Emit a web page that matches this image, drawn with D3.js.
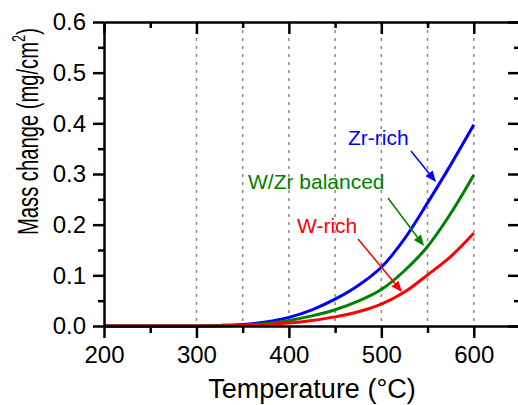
<!DOCTYPE html>
<html>
<head>
<meta charset="utf-8">
<script src="https://cdn.jsdelivr.net/npm/d3@7"></script>
<style>
  body { margin: 0; background: #fff; }
  svg { display: block; font-family: "Liberation Sans", Arial, sans-serif; }
</style>
</head>
<body>
<div id="chart-area"></div>
<script>
// data
var temperature = [200,225,250,275,300,325,350,375,400,425,450,475,500,525,550,575,600];
var zrRich     = [0,0,0,0,0,0.001,0.003,0.008,0.017,0.032,0.053,0.080,0.116,0.172,0.243,0.318,0.397];
var wzrBalanced = [0,0,0,0,0,0.001,0.002,0.005,0.011,0.020,0.032,0.049,0.072,0.109,0.157,0.222,0.298];
var wRich      = [0,0,0,0,0,0,0.001,0.003,0.006,0.011,0.018,0.028,0.043,0.067,0.101,0.137,0.183];

var seriesNames = ["Zr-rich", "W/Zr balanced", "W-rich"];
var seriesColors = ["#0000ff", "#008000", "#ff0000"];
var seriesValues = [zrRich, wzrBalanced, wRich];

var xTicks = [200,300,400,500,600];
var xMinor = [250,350,450,550,650];
var yTicks = [0,0.1,0.2,0.3,0.4,0.5,0.6];
var yMinor = [0.05,0.15,0.25,0.35,0.45,0.55];
var gridTemps = [300,350,400,450,500,550,600];

var W = 518, H = 405;
var plot = {left:104, right:520, top:22, bottom:326};

var svg = d3.select("#chart-area").append("svg")
	.attr("width", W).attr("height", H);

var x = d3.scaleLinear().domain([200, 650]).range([plot.left, plot.right]);
var y = d3.scaleLinear().domain([0, 0.6]).range([plot.bottom, plot.top]);

// dotted grid lines
svg.append("g").selectAll("line")
	.data(gridTemps).enter().append("line")
	.attr("x1", function(d){ return x(d); })
	.attr("x2", function(d){ return x(d); })
	.attr("y1", plot.top).attr("y2", plot.bottom)
	.attr("stroke", "#8a8a8a")
	.attr("stroke-width", 1.5)
	.attr("stroke-dasharray", "3,5");

// curves
var line = d3.line()
	.x(function(d, i){ return x(temperature[i]); })
	.y(function(d){ return y(d); })
	.curve(d3.curveCatmullRom.alpha(0.5));

seriesValues.forEach(function(vals, i){
	svg.append("path")
		.attr("d", line(vals))
		.attr("fill", "none")
		.attr("stroke", seriesColors[i])
		.attr("stroke-width", 3);
});

// axes
function tickStyle(g){
	g.select(".domain").attr("stroke-width", 2.5);
	g.selectAll(".tick line").attr("stroke-width", 2.5);
	g.selectAll(".tick text").attr("font-family", "Liberation Sans, Arial, sans-serif");
}
function minorStyle(g){
	g.select(".domain").remove();
	g.selectAll("line").attr("stroke-width", 2.5);
}

var xBottom = svg.append("g")
	.attr("transform", "translate(0," + plot.bottom + ")")
	.call(d3.axisBottom(x).tickValues(xTicks).tickSize(12).tickSizeOuter(0).tickPadding(8)
		.tickFormat(d3.format("d")));
xBottom.call(tickStyle);
xBottom.selectAll(".tick text").attr("font-size", "24px").attr("fill", "#000");

svg.append("g")
	.attr("transform", "translate(0," + plot.bottom + ")")
	.call(d3.axisBottom(x).tickValues(xMinor).tickSize(7).tickFormat(""))
	.call(minorStyle);

var xTop = svg.append("g")
	.attr("transform", "translate(0," + plot.top + ")")
	.call(d3.axisBottom(x).tickValues(xTicks).tickSize(12).tickSizeOuter(0).tickFormat(""));
xTop.call(tickStyle);
svg.append("g")
	.attr("transform", "translate(0," + plot.top + ")")
	.call(d3.axisBottom(x).tickValues(xMinor).tickSize(6).tickFormat(""))
	.call(minorStyle);

var yLeft = svg.append("g")
	.attr("transform", "translate(" + plot.left + ",0)")
	.call(d3.axisLeft(y).tickValues(yTicks).tickSize(11).tickSizeOuter(0).tickPadding(7)
		.tickFormat(d3.format(".1f")));
yLeft.call(tickStyle);
yLeft.selectAll(".tick text").attr("font-size", "24px").attr("fill", "#000");
svg.append("g")
	.attr("transform", "translate(" + plot.left + ",0)")
	.call(d3.axisLeft(y).tickValues(yMinor).tickSize(6).tickFormat(""))
	.call(minorStyle);

var yRight = svg.append("g")
	.attr("transform", "translate(" + plot.right + ",0)")
	.call(d3.axisLeft(y).tickValues(yTicks).tickSize(12).tickSizeOuter(0).tickFormat(""));
yRight.call(tickStyle);
svg.append("g")
	.attr("transform", "translate(" + plot.right + ",0)")
	.call(d3.axisLeft(y).tickValues(yMinor).tickSize(6).tickFormat(""))
	.call(minorStyle);

// axis titles
svg.append("text")
	.attr("x", (plot.left + plot.right) / 2)
	.attr("y", 398)
	.attr("text-anchor", "middle")
	.attr("font-size", "27px")
	.text("Temperature (°C)");

var yTitleG = svg.append("g")
	.attr("transform", "translate(38,235) rotate(-90)");
var yTitle = yTitleG.append("text")
	.attr("x", 0).attr("y", 0)
	.attr("font-size", "30px");
yTitle.append("tspan").text("Mass change (mg/cm");
yTitle.append("tspan").attr("font-size", "19px").attr("dy", -13).text("2");
yTitle.append("tspan").attr("dy", 13).text(")");
var titleLen = yTitle.node().getComputedTextLength();
yTitleG.attr("transform", "translate(38,235) rotate(-90) scale(" + (207 / titleLen) + ",1)");

// series labels with arrows
var labelPos = [[348, 145], [248, 189], [297, 233]];
var arrowFrom = [[411, 151], [388, 198], [358, 239]];
var arrowTo = [[436, 182], [424, 246], [402, 292]];

seriesNames.forEach(function(name, i){
	svg.append("text")
		.attr("x", labelPos[i][0]).attr("y", labelPos[i][1])
		.attr("font-size", "21px")
		.attr("fill", seriesColors[i])
		.text(name);

	var x0 = arrowFrom[i][0], y0 = arrowFrom[i][1];
	var x1 = arrowTo[i][0], y1 = arrowTo[i][1];
	var ang = Math.atan2(y1 - y0, x1 - x0);
	var hl = 11, hw = 4.5;
	var bx = x1 - hl * Math.cos(ang), by = y1 - hl * Math.sin(ang);
	svg.append("line")
		.attr("x1", x0).attr("y1", y0)
		.attr("x2", bx).attr("y2", by)
		.attr("stroke", seriesColors[i])
		.attr("stroke-width", 1.5);
	svg.append("path")
		.attr("d", "M" + x1 + "," + y1 +
			"L" + (bx + hw * Math.sin(ang)) + "," + (by - hw * Math.cos(ang)) +
			"L" + (bx - hw * Math.sin(ang)) + "," + (by + hw * Math.cos(ang)) + "Z")
		.attr("fill", seriesColors[i]);
});
</script>
</body>
</html>
